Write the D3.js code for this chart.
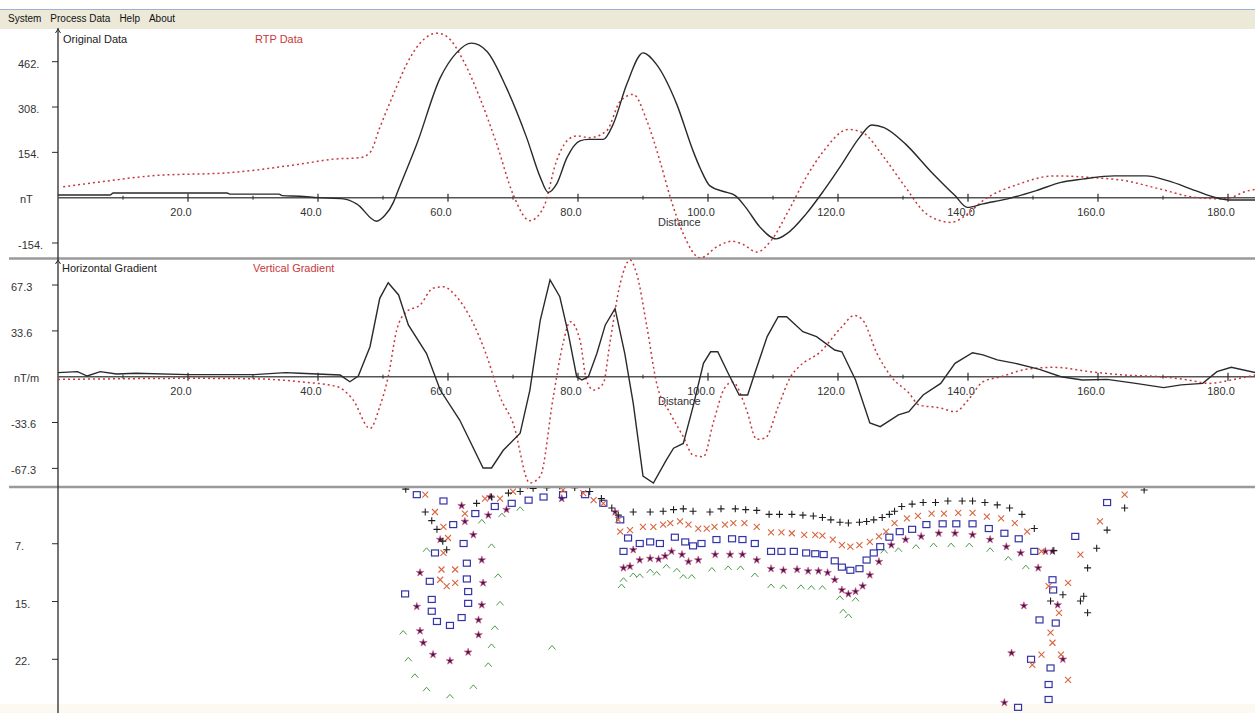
<!DOCTYPE html>
<html>
<head>
<meta charset="utf-8">
<script src="https://cdn.jsdelivr.net/npm/d3@7"></script>
<style>
  html, body { margin: 0; padding: 0; background: #fff; }
  svg { display: block; font-family: "Liberation Sans", Arial, sans-serif; }
</style>
</head>
<body>
<svg id="chart" width="1255" height="713"></svg>
<script>
// ---- profile data: [distance, value] ----
const originalData = [[0,9],[8,9],[8.5,16],[26,16],[26.5,12],[34,12],[34.5,7],[37.2,5],[40,0],[43.9,-4],[46,-22],[49,-80],[50.3,-60],[51.6,-16],[52.1,12],[55.2,182],[58.8,407],[61.3,492],[63.6,525],[66,497],[69,373],[72.1,204],[74.2,69],[75.4,18],[76.7,46],[78.3,136],[80.3,193],[81.6,198],[83.9,198],[85.4,249],[87.5,385],[90,492],[92.1,452],[95.2,317],[97.7,159],[98.8,100],[100.3,40],[102.4,21],[104.2,7],[105.8,-33],[108,-100],[110.5,-140],[112.1,-123],[115.1,-55],[117.8,24],[120.6,114],[123.3,204],[125.2,247],[127.1,238],[130.4,182],[134.2,91],[138,7],[139.9,-33],[142.3,-21],[146.1,-4],[150.5,24],[154.3,52],[157.6,63],[162.5,74],[167.4,74],[170.7,58],[175,24],[178.3,-1],[180.5,-8],[184.2,-8]];

const rtpData = [[0.8,37],[7,55],[14.2,74],[27,86],[37.2,114],[42.4,131],[46.5,136],[48,153],[49.5,238],[51.6,351],[53.6,452],[55.7,525],[58.3,559],[59.8,548],[62.4,464],[64.9,339],[67.5,182],[70,12],[72.6,-78],[74.7,-33],[76.7,125],[78.3,193],[79.8,210],[81.8,204],[84.4,227],[86.5,328],[88.5,351],[90.6,261],[92.6,125],[94.2,1],[96.2,-123],[98.8,-205],[101.5,-165],[103.7,-148],[105.5,-160],[107.5,-185],[109.7,-146],[112.4,-44],[115.1,69],[117.8,159],[121.6,232],[123.8,221],[127.1,136],[130.4,35],[133.6,-55],[137.4,-84],[139.6,-61],[142.3,-10],[147.8,46],[153.2,74],[158.7,69],[164.1,58],[169.6,29],[175,1],[179.4,-4],[183.2,24],[184.2,28]];

const horizGradient = [[0,3],[3,3.7],[4.5,0.5],[6.5,3.7],[9,2],[12,2.5],[20,1.5],[30,1.5],[35,3],[37.2,2.5],[43.4,1.2],[44.9,-3.7],[46.2,0.5],[48,22],[49.5,57.5],[50.8,69],[52.4,60],[53.9,38],[56.7,17],[58.8,-9.8],[61.8,-31.8],[65.4,-67],[66.7,-67],[68.5,-54],[71.1,-41.5],[72.6,-9.8],[74.2,41.6],[75.7,71],[77.2,58.7],[78.5,31.8],[79.8,0],[80.6,-2.4],[81.6,0],[82.9,17],[84.2,38],[85.7,50],[87.2,17],[88.5,-19.6],[90,-73],[91.6,-78],[93.6,-61],[94.7,-52.5],[96.2,-49],[97.7,-22],[99.3,9.8],[100.4,18.3],[101.5,18.3],[103.1,2.5],[104.8,-13.4],[106.1,-13.4],[107.2,2.5],[109.1,29.4],[110.8,44],[112.1,44],[114.6,33],[116.7,29.4],[119.5,19.6],[120.6,18.3],[122.7,-2.4],[124.9,-34],[126.5,-36.7],[129.3,-28],[130.9,-25.7],[133.1,-13.4],[135.8,-4.9],[138,9.8],[140.7,17.6],[142.3,16],[144.5,12.3],[147.3,9.8],[151,5.4],[154.3,0],[157.6,-2.4],[161.4,-2],[165.8,-4.9],[170.1,-8],[172.8,-6],[176.1,-4.9],[178.3,3.7],[180.5,6.9],[184.2,3]];

const vertGradient = [[0,-2],[10,-1.5],[20,-1.2],[30,-1.5],[37.2,-3.7],[42.9,-7.3],[45.4,-17],[48,-38],[49.5,-22],[50.8,0],[52.1,34],[53.6,47.7],[55.7,52.6],[57.7,65],[59.3,66],[61.3,58.7],[63.9,39],[66,14.7],[68,-14.7],[70,-34],[72.6,-78],[74.2,-73],[76.2,-14.7],[77.7,24.5],[78.8,40.4],[80.3,27],[81.3,-2.4],[82.4,-9.8],[83.9,-4.9],[84.9,24.5],[86.5,68.5],[88,85.6],[89,76],[90.6,36.7],[92.1,-4.9],[94.2,-27],[96.2,-44],[97.7,-57.5],[99.3,-58.7],[100.8,-34],[102.6,-8],[103.8,-4],[105.9,-24],[107.5,-46],[108.8,-45],[110.8,-22],[112.7,0],[114,7.3],[117.3,18.3],[120.6,36.7],[122.5,45],[123.8,41.6],[126,17],[128.2,0],[130.9,-12],[132.5,-20.8],[135.8,-23],[138,-25.7],[140.2,-16],[142.3,-3.7],[145.1,0],[148.9,5.4],[153.2,6.9],[158.7,3.7],[164.1,1.2],[169.6,0],[173.9,-2.4],[177.2,-4.9],[180.5,-2.4],[184.2,1.2]];

// ---- depth solutions: [distance, depth] ----
const depthPlus = [[53.5,0.4],[56.5,3.3],[57.5,4.4],[58.3,5.5],[59.2,7.0],[59.8,8.1],[64.4,2.2],[66.7,1.4],[69.3,0.9],[71.1,0.7],[73.1,0.3],[75.2,0.2],[77.2,0.0],[79.5,0.2],[81.8,0.7],[83.6,1.6],[85.2,2.8],[86.2,3.7],[88.5,3.3],[91.1,3.3],[93.1,3.2],[94.7,3.0],[96.2,2.9],[97.7,3.2],[100.3,3.3],[102.0,2.9],[104.2,2.9],[105.8,3.0],[107.5,3.1],[109.4,3.6],[111.0,3.6],[112.9,3.6],[114.6,3.7],[116.2,3.8],[117.6,4.0],[118.9,4.3],[120.3,4.6],[121.6,4.7],[123.3,4.6],[124.4,4.5],[125.5,4.3],[126.8,4.0],[127.9,3.6],[128.7,3.2],[129.8,2.6],[131.4,2.3],[133.1,2.1],[135.0,2.1],[136.9,1.9],[139.1,1.9],[140.7,1.9],[142.6,2.1],[144.5,2.4],[146.4,2.8],[148.3,3.6],[150.2,5.4],[153.2,8.2],[154.6,13.8],[152.7,14.6],[157.3,14.6],[157.8,14.0],[158.4,16.1],[158.4,10.4],[159.8,7.9],[161.4,5.6],[164.1,2.8],[167.1,0.5]];

const depthCross = [[56.5,1.1],[58.0,3.3],[59.3,5.2],[60.0,6.6],[59.3,8.5],[59.0,10.6],[61.1,10.6],[58.8,11.9],[61.1,12.3],[59.8,12.7],[62.6,3.5],[65.7,1.6],[68.0,1.6],[70.0,0.7],[72.6,0.0],[77.7,0.5],[80.8,0.9],[82.4,1.8],[83.9,2.2],[86.2,4.3],[86.5,5.8],[88.0,5.6],[90.0,5.2],[91.6,5.2],[93.1,4.9],[94.2,4.7],[95.7,4.5],[97.0,4.9],[98.5,5.4],[99.8,5.4],[101.0,5.2],[102.6,4.9],[103.9,4.7],[105.6,4.7],[107.5,5.2],[109.7,5.9],[111.3,5.9],[112.9,6.0],[114.8,6.2],[116.5,6.2],[117.6,6.3],[119.2,6.8],[120.6,7.5],[121.9,7.7],[123.3,7.5],[124.9,7.1],[126.3,6.4],[127.4,5.8],[128.7,4.7],[130.6,4.1],[132.3,3.8],[134.4,3.5],[136.3,3.5],[138.5,3.4],[140.7,3.4],[142.9,3.9],[145.1,4.1],[147.2,4.7],[149.1,5.8],[151.3,8.3],[152.4,12.7],[155.4,12.3],[154.0,16.1],[152.7,18.6],[153.0,19.9],[154.3,21.4],[151.3,21.4],[149.9,22.7],[155.4,24.6],[157.3,8.7],[160.3,4.5],[164.1,1.1]];

const depthSquare = [[55.2,1.1],[59.3,1.9],[60.8,4.9],[62.4,7.3],[58.0,8.5],[62.9,9.8],[57.2,12.1],[62.9,11.8],[53.4,13.7],[63.1,13.4],[57.5,14.4],[57.5,15.9],[63.1,14.9],[62.1,16.7],[58.3,17.2],[60.3,17.7],[64.2,3.5],[67.2,2.6],[69.8,2.2],[72.4,1.8],[74.7,1.4],[77.7,1.1],[81.1,1.1],[83.9,2.2],[86.5,4.3],[87.7,6.6],[87.0,8.3],[89.5,7.3],[91.1,7.1],[92.6,7.3],[94.9,6.5],[96.5,7.1],[97.7,7.6],[99.0,7.3],[101.3,6.8],[103.7,6.7],[105.3,6.8],[107.2,7.3],[109.7,8.3],[111.3,8.3],[113.2,8.3],[115.1,8.5],[116.5,8.6],[117.8,8.7],[119.5,9.5],[120.6,10.3],[121.9,10.7],[123.3,10.5],[124.4,9.4],[125.5,8.5],[126.5,7.7],[127.9,6.5],[129.5,5.8],[131.4,5.5],[133.6,4.9],[136.1,4.8],[138.2,4.8],[140.7,4.8],[143.2,5.4],[145.6,6.0],[147.8,6.7],[150.2,8.3],[153.0,11.9],[153.1,13.2],[151.0,17.0],[153.5,17.4],[149.7,22.0],[152.7,23.1],[152.4,25.2],[152.4,27.1],[147.7,28.1],[156.5,6.4],[161.4,2.1]];

const depthStar = [[58.8,6.8],[62.1,2.5],[62.6,4.5],[63.9,6.2],[65.2,9.4],[55.7,11.0],[65.4,12.3],[55.2,15.3],[65.2,15.1],[64.7,17.0],[55.7,18.4],[64.7,18.9],[56.2,19.9],[57.7,21.4],[63.1,21.1],[60.3,22.2],[66.5,1.4],[66.2,3.7],[69.0,3.0],[77.5,1.6],[85.7,3.3],[88.5,8.1],[87.0,10.4],[88.0,10.2],[89.5,9.4],[91.1,9.2],[92.4,9.3],[93.4,8.9],[94.4,8.3],[96.0,8.7],[97.0,9.6],[98.5,9.4],[101.1,8.7],[103.4,8.7],[105.3,8.7],[107.5,9.4],[109.7,10.5],[111.6,10.7],[113.7,10.6],[115.4,10.8],[117.0,10.8],[118.4,11.0],[119.5,11.9],[120.6,13.2],[121.6,13.7],[122.7,13.4],[123.8,12.7],[124.9,11.3],[126.3,9.6],[128.2,7.5],[130.4,6.8],[132.8,6.4],[135.5,6.0],[138.0,6.0],[140.7,6.2],[143.4,6.8],[145.9,7.7],[148.1,8.5],[150.8,10.4],[151.9,8.3],[153.0,8.3],[153.8,15.1],[148.6,15.2],[146.7,21.2],[154.6,22.0],[145.6,27.5]];

const depthCaret = [[66.7,7.6],[67.7,11.4],[68.0,14.9],[67.2,18.0],[66.7,20.3],[66.2,22.7],[63.9,25.5],[60.3,26.7],[56.7,25.8],[54.9,24.1],[53.9,22.0],[53.1,18.6],[56.7,8.1],[65.2,4.5],[68.3,3.7],[71.1,2.9],[76.0,20.5],[86.7,12.7],[87.0,11.9],[88.5,11.3],[89.5,11.4],[91.1,10.8],[92.1,11.1],[93.6,10.2],[95.2,10.7],[96.2,11.5],[97.5,11.5],[100.6,10.6],[103.1,10.4],[105.0,10.4],[107.2,11.3],[109.7,12.7],[111.6,12.8],[114.3,12.8],[115.9,12.9],[117.6,12.9],[120.3,14.2],[122.7,14.4],[120.8,15.9],[121.6,16.5],[127.1,8.3],[129.3,8.1],[132.0,7.7],[134.7,7.5],[137.4,7.5],[140.2,7.5],[143.4,8.1],[146.2,9.2],[148.9,10.3]];

// ---- axis ticks and labels ----
const distanceTicks = [20, 40, 60, 80, 100, 120, 140, 160, 180];
const distanceMinorTicks = [10, 30, 50, 70, 90, 110, 130, 150, 170];
const fieldTicks = [462, 308, 154, -154];
const fieldTickLabels = ["462.", "308.", "154.", "-154."];
const gradientTicks = [67.3, 33.6, -33.6, -67.3];
const gradientTickLabels = ["67.3", "33.6", "-33.6", "-67.3"];
const depthTicks = [7.33, 14.67, 22];
const depthTickLabels = ["7.", "15.", "22."];
const menuItems = ["System", "Process Data", "Help", "About"];

const W = 1255, H = 713;
const svg = d3.select("#chart");
const AX = 58;                       // vertical axis position
const INK = "#2a2a2a", RED = "#c8383a";

// scales
const x = d3.scaleLinear().domain([0, 180]).range([AX, AX + 1170]);
const yTop = d3.scaleLinear().domain([-154, 462]).range([243, 61.7]);
const yMid = d3.scaleLinear().domain([-67.3, 67.3]).range([468.4, 285]);
const yDepth = d3.scaleLinear().domain([0, 22]).range([486, 659.3]);

const panels = {
  top: { y0: 29, y1: 258 },
  mid: { y0: 259, y1: 487 },
  bot: { y0: 488, y1: H }
};

// menu bar
svg.append("rect").attr("x", 0).attr("y", 9).attr("width", W).attr("height", 20).attr("fill", "#ece9d8");
svg.append("line").attr("x1", 0).attr("x2", W).attr("y1", 9.5).attr("y2", 9.5).attr("stroke", "#9db0d8").attr("stroke-width", 1);
let mx = 8;
menuItems.forEach(m => {
  const t = svg.append("text").attr("x", mx).attr("y", 22).attr("font-size", 10).attr("fill", "#111").text(m);
  mx += t.node().getComputedTextLength() + 9;
});

// faint status strip at bottom
svg.append("rect").attr("x", 0).attr("y", 704).attr("width", W).attr("height", 9).attr("fill", "#fcfaf0");

// clip paths per panel
const defs = svg.append("defs");
Object.entries(panels).forEach(([k, p]) => {
  defs.append("clipPath").attr("id", "clip-" + k)
    .append("rect").attr("x", AX).attr("y", p.y0).attr("width", W - AX).attr("height", p.y1 - p.y0);
});

// panel separators
[258.5, 487].forEach(yy => {
  svg.append("line").attr("x1", 9).attr("x2", W).attr("y1", yy).attr("y2", yy)
    .attr("stroke", "#9a9a9a").attr("stroke-width", 2.5);
});

// vertical axis
svg.append("line").attr("x1", AX).attr("x2", AX).attr("y1", 28).attr("y2", H).attr("stroke", INK).attr("stroke-width", 1.3);
[29, 260].forEach(ty => {
  svg.append("path").attr("d", `M${AX - 2.5},${ty + 4}L${AX},${ty}L${AX + 2.5},${ty + 4}`)
    .attr("fill", "none").attr("stroke", INK).attr("stroke-width", 1);
});

function yTicks(scale, vals, labels, labelX, unitLabel, unitX) {
  vals.forEach((v, i) => {
    const yy = scale(v);
    svg.append("line").attr("x1", AX - 6).attr("x2", AX).attr("y1", yy).attr("y2", yy).attr("stroke", INK).attr("stroke-width", 1);
    svg.append("text").attr("x", labelX).attr("y", yy + 6).attr("font-size", 11).attr("fill", "#333").text(labels[i]);
  });
  if (unitLabel) {
    svg.append("text").attr("x", unitX).attr("y", scale(0) + 5).attr("font-size", 11).attr("fill", "#333").text(unitLabel);
  }
}

function xAxis(scale, yScale) {
  const y0 = yScale(0);
  svg.append("line").attr("x1", AX).attr("x2", W).attr("y1", y0).attr("y2", y0).attr("stroke", "#555").attr("stroke-width", 1.5);
  distanceTicks.forEach(t => {
    svg.append("line").attr("x1", scale(t)).attr("x2", scale(t)).attr("y1", y0 - 4).attr("y2", y0 + 4).attr("stroke", INK).attr("stroke-width", 1.2);
    svg.append("text").attr("x", scale(t) - 7).attr("y", y0 + 18).attr("text-anchor", "middle")
      .attr("font-size", 11).attr("fill", "#333").text(t.toFixed(1));
  });
  distanceMinorTicks.forEach(t => {
    svg.append("line").attr("x1", scale(t)).attr("x2", scale(t)).attr("y1", y0 - 2).attr("y2", y0 + 2).attr("stroke", INK).attr("stroke-width", 1);
  });
  svg.append("text").attr("x", scale(92.3)).attr("y", y0 + 28).attr("font-size", 11).attr("fill", "#333").text("Distance");
}

// ---- top panel: magnetic field ----
yTicks(yTop, fieldTicks, fieldTickLabels, 18, "nT", 20);
xAxis(x, yTop);
svg.append("text").attr("x", 63).attr("y", 43).attr("font-size", 11).attr("fill", "#222").text("Original Data");
svg.append("text").attr("x", 255).attr("y", 43).attr("font-size", 11).attr("fill", RED).text("RTP Data");

const lineTop = d3.line().x(d => x(d[0])).y(d => yTop(d[1])).curve(d3.curveMonotoneX);
const gTop = svg.append("g").attr("clip-path", "url(#clip-top)");
gTop.append("path").datum(rtpData).attr("d", lineTop).attr("fill", "none")
  .attr("stroke", RED).attr("stroke-width", 1.5).attr("stroke-dasharray", "2,3");
gTop.append("path").datum(originalData).attr("d", lineTop).attr("fill", "none")
  .attr("stroke", INK).attr("stroke-width", 1.4);

// ---- middle panel: gradients ----
yTicks(yMid, gradientTicks, gradientTickLabels, 11, "nT/m", 14);
xAxis(x, yMid);
svg.append("text").attr("x", 62).attr("y", 272).attr("font-size", 11).attr("fill", "#222").text("Horizontal Gradient");
svg.append("text").attr("x", 253).attr("y", 272).attr("font-size", 11).attr("fill", RED).text("Vertical Gradient");

const gMid = svg.append("g").attr("clip-path", "url(#clip-mid)");
gMid.append("path").datum(vertGradient)
  .attr("d", d3.line().x(d => x(d[0])).y(d => yMid(d[1])).curve(d3.curveMonotoneX))
  .attr("fill", "none").attr("stroke", RED).attr("stroke-width", 1.5).attr("stroke-dasharray", "2,3");
gMid.append("path").datum(horizGradient)
  .attr("d", d3.line().x(d => x(d[0])).y(d => yMid(d[1])))
  .attr("fill", "none").attr("stroke", INK).attr("stroke-width", 1.4);

// ---- bottom panel: depth solutions ----
yTicks(yDepth, depthTicks, depthTickLabels, 15, null, 0);
const gBot = svg.append("g").attr("clip-path", "url(#clip-bot)");

function markers(data, draw) {
  const sel = gBot.append("g").selectAll("g").data(data).join("g")
    .attr("transform", d => `translate(${x(d[0])},${yDepth(d[1])})`);
  draw(sel);
}
markers(depthCaret, s => s.append("path").attr("d", "M-3.5,2L0,-2L3.5,2").attr("fill", "none").attr("stroke", "#4a9a4a").attr("stroke-width", 1));
markers(depthStar, s => s.append("path").attr("d", d3.symbol(d3.symbolStar, 18)).attr("fill", "#4b124f").attr("stroke", "#c8608a").attr("stroke-width", 0.7));
markers(depthSquare, s => s.append("rect").attr("x", -3.5).attr("y", -3).attr("width", 7).attr("height", 6).attr("fill", "none").attr("stroke", "#3434a8").attr("stroke-width", 1.2));
markers(depthCross, s => s.append("path").attr("d", "M-3,-3L3,3M-3,3L3,-3").attr("fill", "none").attr("stroke", "#d8653f").attr("stroke-width", 1.1));
markers(depthPlus, s => s.append("path").attr("d", "M-3.5,0H3.5M0,-3.5V3.5").attr("fill", "none").attr("stroke", "#1e1e1e").attr("stroke-width", 1.1));
</script>
</body>
</html>
